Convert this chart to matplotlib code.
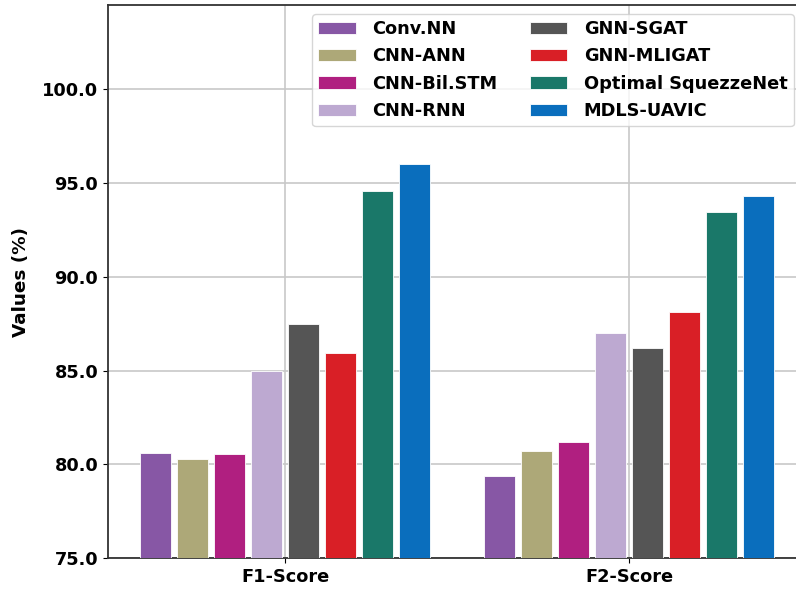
import numpy as np
import matplotlib.pyplot as plt

metrics = ['F1-Score', 'F2-Score']
models = ['Conv.NN', 'CNN-ANN', 'CNN-Bil.STM', 'CNN-RNN',
          'GNN-SGAT', 'GNN-MLIGAT', 'Optimal SquezzeNet', 'MDLS-UAVIC']
f1_scores = [80.6, 80.3, 80.55, 85.0, 87.5, 85.95, 94.6, 96.0]
f2_scores = [79.4, 80.7, 81.2, 87.0, 86.2, 88.15, 93.45, 94.3]
colors = ['#8757A5', '#ADA878', '#B01F80', '#BDA9D1',
          '#555555', '#D91F26', '#1A7869', '#0A6EBD']

plt.rcParams['font.weight'] = 'bold'
plt.rcParams['axes.labelweight'] = 'bold'
fs = 12.8

fig = plt.figure(figsize=(7.96, 5.92), dpi=100)
ax = fig.add_axes([0.1357, 0.0574, 0.877, 0.934])

x = np.arange(len(metrics))
step = 0.1075
width = 0.09
for i, name in enumerate(models):
    vals = [f1_scores[i], f2_scores[i]]
    ax.bar(x + (i - 3.5) * step, vals, width, color=colors[i],
           edgecolor='white', linewidth=0.6, label=name, zorder=3)

ax.set_ylim(75, 104.5)
ax.set_xlim(-0.515, 1.515)
ax.set_yticks([75, 80, 85, 90, 95, 100])
ax.set_yticklabels(['75.0', '80.0', '85.0', '90.0', '95.0', '100.0'], fontsize=fs)
ax.set_xticks(x)
ax.set_xticklabels(metrics, fontsize=fs)
ax.set_ylabel('Values (%)', fontsize=13.2, labelpad=9)
ax.grid(True, color='#c8c8c8', linewidth=1.2, zorder=0)
for s in ax.spines.values():
    s.set_color('#333333')
    s.set_linewidth(1.3)

ax.legend(ncol=2, loc='upper left', bbox_to_anchor=(312 / 796, 1 - 14 / 592),
          bbox_transform=fig.transFigure, frameon=True,
          handlelength=2.1, handletextpad=0.95, columnspacing=1.8,
          labelspacing=0.52, borderaxespad=0, borderpad=0.35,
          prop={'weight': 'bold', 'size': fs})

fig.savefig('out.png', dpi=100)
